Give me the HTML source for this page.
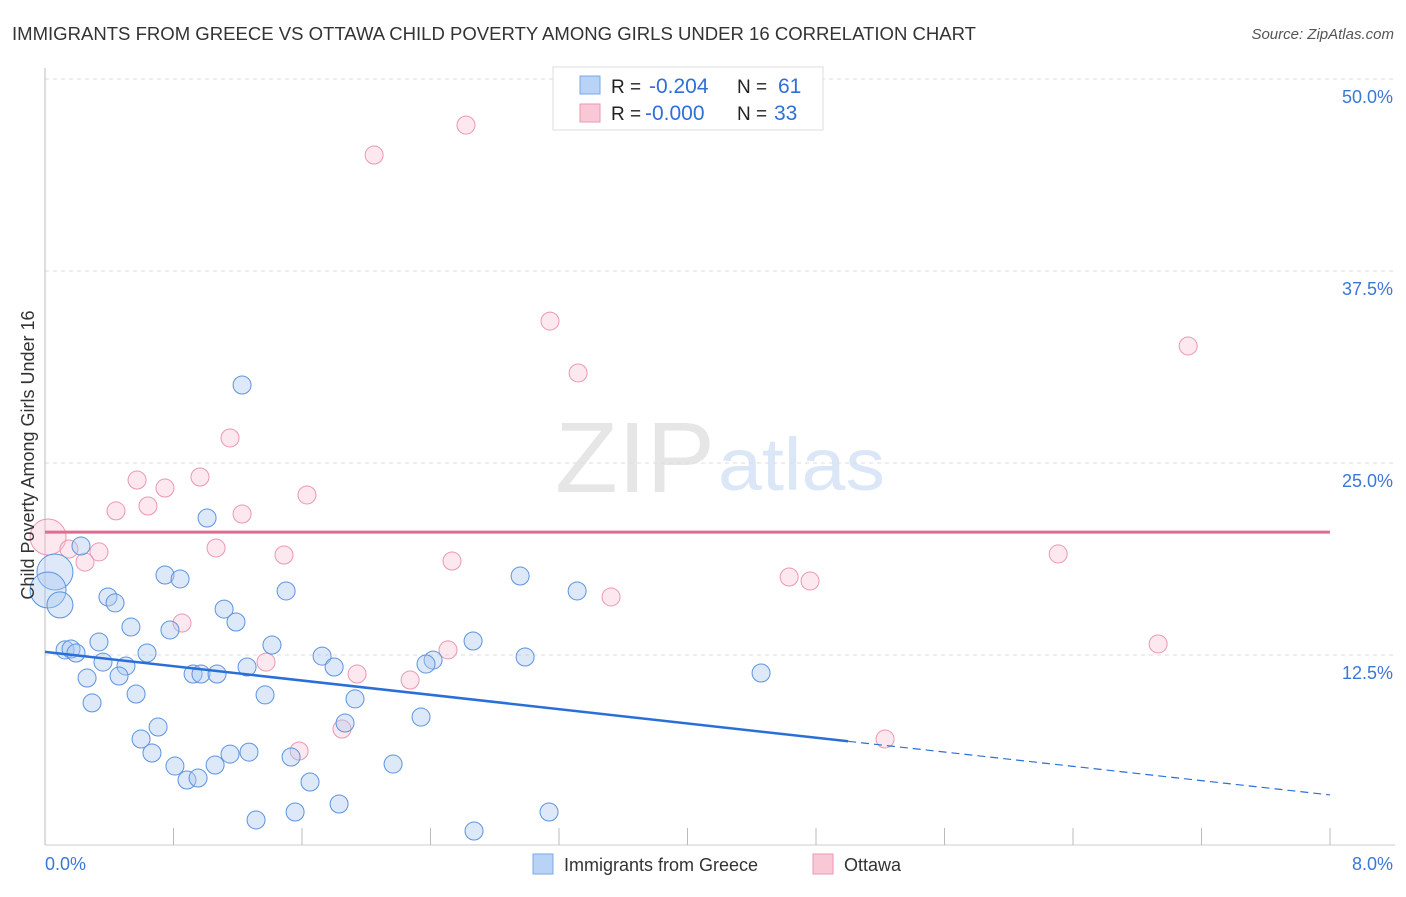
<!DOCTYPE html>
<html><head><meta charset="utf-8"><style>
body{margin:0;background:#fff;font-family:"Liberation Sans",sans-serif;}
svg text{font-family:"Liberation Sans",sans-serif;}
</style></head><body>
<svg id="chart" width="1406" height="892" xmlns="http://www.w3.org/2000/svg">
<text x="12" y="40" font-size="18" fill="#333" textLength="964" lengthAdjust="spacingAndGlyphs">IMMIGRANTS FROM GREECE VS OTTAWA CHILD POVERTY AMONG GIRLS UNDER 16 CORRELATION CHART</text>
<text x="1394" y="39" font-size="15" fill="#555" font-style="italic" text-anchor="end">Source: ZipAtlas.com</text>
<text x="555" y="492" font-size="100" fill="#e6e6e6" textLength="160" lengthAdjust="spacingAndGlyphs" font-family="Liberation Serif">ZIP</text>
<text x="718" y="490" font-size="74" fill="#dbe7f7" textLength="167" lengthAdjust="spacingAndGlyphs">atlas</text>
<g id="grid"></g>
<g id="axes"></g>
<g id="pts"></g>
<g id="trends"></g>
<text transform="translate(34,455) rotate(-90)" font-size="18" fill="#333" text-anchor="middle">Child Poverty Among Girls Under 16</text>
<g>
<rect x="553" y="67" width="270" height="63" fill="#fff" stroke="#ddd"/>
<rect x="580" y="76" width="20" height="18" fill="#b8d3f5" stroke="#7aaae8"/>
<rect x="580" y="104" width="20" height="18" fill="#f9c8d6" stroke="#eb97b0"/>
<text x="611" y="93" font-size="19" fill="#222">R = </text><text x="649" y="93" font-size="21" fill="#2f6fd6">-0.204</text>
<text x="737" y="93" font-size="19" fill="#222">N = </text><text x="778" y="93" font-size="21" fill="#2f6fd6">61</text>
<text x="611" y="120" font-size="19" fill="#222">R = </text><text x="645" y="120" font-size="21" fill="#2f6fd6">-0.000</text>
<text x="737" y="120" font-size="19" fill="#222">N = </text><text x="774" y="120" font-size="21" fill="#2f6fd6">33</text>
</g>
<g>
<rect x="533" y="854" width="20" height="20" fill="#b8d3f5" stroke="#7aaae8"/>
<text x="564" y="871" font-size="18" fill="#333">Immigrants from Greece</text>
<rect x="813" y="854" width="20" height="20" fill="#f9c8d6" stroke="#eb97b0"/>
<text x="844" y="871" font-size="18" fill="#333">Ottawa</text>
</g>
</svg>
<script>
const yTicks=[12.5,25,37.5,50];
const yTickLabels=["12.5%","25.0%","37.5%","50.0%"];
const xTicks=[0,0.8,1.6,2.4,3.2,4,4.8,5.6,6.4,7.2,8];
const xEndLabels=["0.0%","8.0%"];
const greeceX=[1.227,1.009,0.224,0.062,0.019,0.093,0.747,0.841,0.392,0.436,1.115,1.189,0.535,0.778,1.501,0.336,1.413,0.125,0.162,0.193,0.635,0.361,0.504,1.725,1.800,0.922,0.971,1.071,1.258,0.262,0.461,0.567,1.370,0.293,1.930,0.704,0.598,1.868,2.341,0.666,0.809,0.884,0.953,1.059,1.152,1.270,1.532,1.650,1.831,2.167,1.314,1.557,2.671,3.138,2.958,3.313,2.665,2.989,2.416,2.372,4.458];
const greeceY=[30.08,21.42,19.60,17.90,16.73,15.76,17.71,17.45,16.28,15.89,15.49,14.65,14.32,14.13,16.67,13.35,13.15,12.83,12.89,12.63,12.63,12.04,11.78,12.43,11.72,11.26,11.26,11.26,11.72,11.00,11.13,9.96,9.90,9.38,9.64,7.81,7.03,8.07,8.46,6.12,5.27,4.36,4.49,5.34,6.05,6.18,5.86,4.23,2.80,5.40,1.76,2.28,1.04,2.28,17.64,16.67,13.41,12.37,12.17,11.91,11.33];
const greeceBig=[3,4,5];
const ottawaX=[2.621,2.049,3.144,3.319,7.117,1.152,0.573,0.965,0.747,0.641,0.442,1.227,1.631,0.019,0.149,0.336,0.249,1.065,1.488,2.534,6.308,4.633,4.763,3.524,0.853,2.509,1.376,1.943,2.273,6.930,1.582,1.849,5.230];
const ottawaY=[47.00,45.05,34.24,30.86,32.62,26.63,23.89,24.09,23.37,22.20,21.88,21.68,22.92,20.18,19.40,19.21,18.55,19.47,19.01,18.62,19.08,17.58,17.32,16.28,14.58,12.83,12.04,11.26,10.87,13.22,6.25,7.68,7.03];
const ottawaBig=[13];
const greeceTrend=[12.7,3.39];const greeceSolidEnd=5.0;
const ottawaTrend=[20.5,20.5];

const NS="http://www.w3.org/2000/svg";
const X0=45,X1=1330,Y0=847,PXPER=15.36;
const sx=v=>X0+(v/8)*(X1-X0);
const sy=v=>Y0-v*PXPER;
function mk(tag,attrs,parent){const e=document.createElementNS(NS,tag);for(const k in attrs)e.setAttribute(k,attrs[k]);parent.appendChild(e);return e;}
const grid=document.getElementById('grid'),axes=document.getElementById('axes'),pts=document.getElementById('pts'),tr=document.getElementById('trends');
yTicks.forEach((t,i)=>{
 const l=mk('line',{x1:45,x2:1395,y1:sy(t),y2:sy(t),stroke:'#ddd','stroke-dasharray':'4,4'},grid);
 
 
 const tx=mk('text',{x:1393,y:sy(t)+24,'font-size':18,fill:'#3a78d8','text-anchor':'end'},grid);
 tx.textContent=yTickLabels[i];
 
 
});
const ax=mk('line',{x1:45,x2:45,y1:68,y2:845,stroke:'#bbb'},axes);


const bx=mk('line',{x1:45,x2:1395,y1:845,y2:845,stroke:'#ccc'},axes);


xTicks.forEach(t=>{
 const l=mk('line',{x1:sx(t),x2:sx(t),y1:828,y2:845,stroke:'#bbb'},axes);
 
 
});
const xl0=mk('text',{x:45,y:870,'font-size':18,fill:'#3a78d8'},axes);xl0.textContent=xEndLabels[0];


const xl1=mk('text',{x:1393,y:870,'font-size':18,fill:'#3a78d8','text-anchor':'end'},axes);xl1.textContent=xEndLabels[1];


ottawaX.forEach((x,i)=>{
 const c=mk('circle',{cx:sx(x),cy:sy(ottawaY[i]),r:ottawaBig.includes(i)?18:9,fill:'rgba(249,190,208,0.35)',stroke:'#eb97b0','stroke-width':1},pts);
 
 
});
greeceX.forEach((x,i)=>{
 const c=mk('circle',{cx:sx(x),cy:sy(greeceY[i]),r:greeceBig.includes(i)?(i===5?13:18):9,fill:'rgba(170,200,240,0.4)',stroke:'#5b93e0','stroke-width':1},pts);
 
 
});
const lerp=x=>greeceTrend[0]+(greeceTrend[1]-greeceTrend[0])*x/8;
const g1=mk('line',{x1:sx(0),y1:sy(lerp(0)),x2:sx(greeceSolidEnd),y2:sy(lerp(greeceSolidEnd)),stroke:'#2a6fd8','stroke-width':2.5},tr);


const g2=mk('line',{x1:sx(greeceSolidEnd),y1:sy(lerp(greeceSolidEnd)),x2:sx(8),y2:sy(lerp(8)),stroke:'#2a6fd8','stroke-width':1.2,'stroke-dasharray':'8,5'},tr);


const o1=mk('line',{x1:sx(0),y1:sy(ottawaTrend[0]),x2:sx(8),y2:sy(ottawaTrend[1]),stroke:'#e36b90','stroke-width':3},tr);


</script>
</body></html>
